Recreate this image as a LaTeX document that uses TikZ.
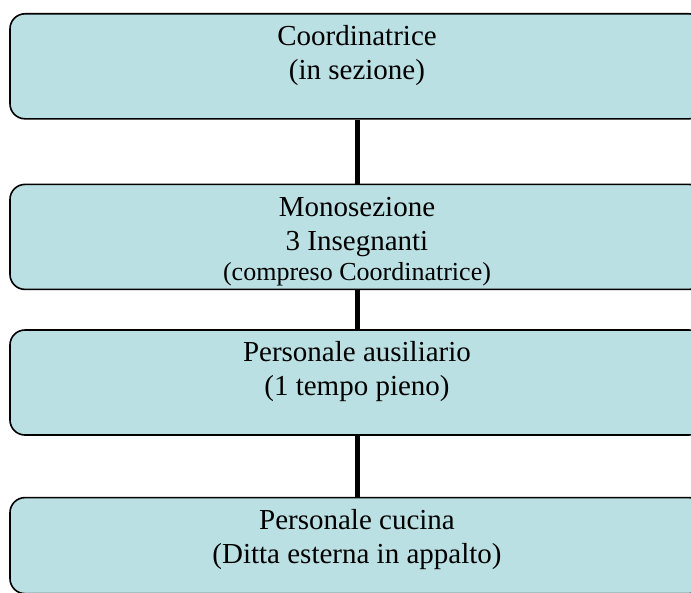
\documentclass[tikz,border=0pt]{standalone}
\usepackage{fontspec}
\setmainfont{Liberation Serif}
\usetikzlibrary{positioning}
\definecolor{boxblue}{RGB}{187,224,227}
\newcommand{\orgtext}[2][66.75pt]{\parbox[c][#1][t]{500pt}{\centering\strut #2}}

\begin{document}
\begin{tikzpicture}[x=0.75pt,y=-0.75pt,
  orgbox/.style={draw, line width=1.2pt, fill=boxblue, rounded corners=11.25pt,
    minimum width=520.5pt, inner xsep=0pt, inner ysep=6pt,
    font=\fontsize{21.75}{25.5}\selectfont},
  orgline/.style={line width=3.75pt}]
\useasboundingbox (0,0) rectangle (691,592);
\clip (0,0) rectangle (691,592);
\node[orgbox, anchor=north] (coord) at (357,13) {\orgtext{Coordinatrice\\(in sezione)}};
\node[orgbox, below=48pt of coord] (mono) {\orgtext{Monosezione\\3 Insegnanti\par
  \fontsize{19.5}{22.5}\selectfont (compreso Coordinatrice)}};
\node[orgbox, below=29.25pt of mono] (ausil) {\orgtext{Personale ausiliario\\(1 tempo pieno)}};
\node[orgbox, below=45.75pt of ausil] (cucina) {\orgtext[60pt]{Personale cucina\\(Ditta esterna in appalto)}};
\draw[orgline] (coord) -- (mono);
\draw[orgline] (mono) -- (ausil);
\draw[orgline] (ausil) -- (cucina);
\end{tikzpicture}
\end{document}
